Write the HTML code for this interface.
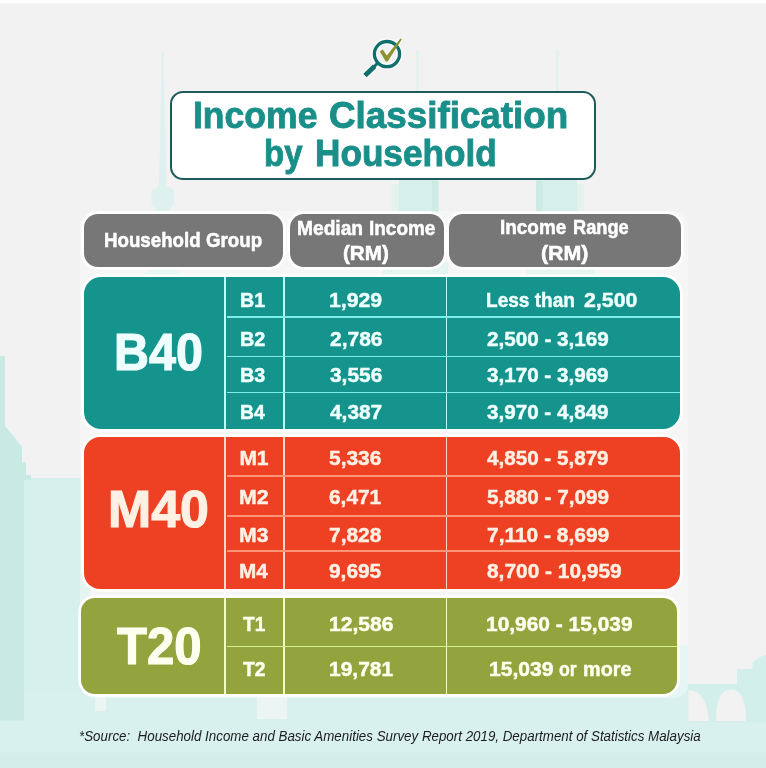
<!DOCTYPE html>
<html><head><meta charset="utf-8"><title>Income Classification by Household</title>
<style>
html,body{margin:0;padding:0}
body{width:766px;height:768px;overflow:hidden;background:#f2f2f2;position:relative;font-family:"Liberation Sans",sans-serif}
.abs{position:absolute}
.t{position:absolute;white-space:nowrap;line-height:1;font-weight:bold;transform-origin:0 0;font-family:"Liberation Sans",sans-serif}
.i{font-weight:normal;font-style:italic}
.hd{position:absolute;background:#777777;border-radius:14px;box-shadow:0 0 0 2.8px rgba(255,255,255,.95)}
.blk{position:absolute;box-shadow:0 0 0 2.8px rgba(255,255,255,.95)}
.vl{position:absolute;width:2px}
.hl{position:absolute;height:1.6px}
</style></head><body>
<!--BG-->
<svg class="abs" style="left:0;top:0" width="766" height="768" viewBox="0 0 766 768">

<rect x="0" y="0" width="766" height="3.2" fill="#ffffff"/>
<rect x="0" y="3.2" width="766" height="1.5" fill="#f8f8f8"/>
<!-- KL tower -->
<path d="M161.8 52 L163.4 52 L166.4 186 L174 190 L174 205 L169 210 L170 268 L180 272 L180 300 L145 300 L145 272 L156 268 L156 210 L151.5 205 L151.5 190 L159 186 Z" fill="#def1ee"/>
<!-- twin towers -->
<g fill="#e3f1ef">
<rect x="416.2" y="50" width="2.6" height="45"/>
<rect x="556.1" y="50" width="2.6" height="45"/>
<rect x="391.5" y="184" width="8" height="116"/>
<rect x="577" y="184" width="7" height="116"/>
</g>
<g fill="#d5efea">
<path d="M399 178 H438.5 V262 H448 V300 H383 V262 H399 Z"/>
<path d="M536 178 H577 V262 H595 V300 H526.7 V262 H536 Z"/>
</g>
<g fill="#cdebe5">
<rect x="432" y="181" width="6.5" height="85"/>
<rect x="536" y="181" width="7" height="85"/>
</g>
<!-- left building -->
<path d="M22 478 H90 V740 H22 Z" fill="#d6f0ec"/>
<path d="M0 356 H5 V426 L22 447 V462 H26 V475 H31 V480 H24 V700 H30 V721 H0 Z" fill="#c8eae3"/>
<!-- bottom -->
<rect x="0" y="720.5" width="766" height="47.5" fill="#d8f1ee"/>
<rect x="0" y="752.5" width="766" height="15.5" fill="#d4ede8"/>
<rect x="24" y="690" width="664" height="32" fill="#d8f1ee"/>
<rect x="95" y="695" width="11" height="16" fill="#ecf5f4"/>
<rect x="257" y="695" width="30" height="24" fill="#ecf5f4"/>
<!-- right -->
<rect x="672" y="645.6" width="15.8" height="80" fill="#d8f1ee"/>
<path d="M687.5 684 H737 V669 H752.5 V663 Q758 657 766 655 V722 H687.5 Z" fill="#d2efeb"/>
<path d="M688.4 721 V690 Q706 690 709 721 Z" fill="#f2f2f2"/>
<path d="M716 721 Q716 689.5 731 689.5 Q746 689.5 746 721 Z" fill="#f2f2f2"/>

</svg>
<div class="abs" style="left:79.5px;top:210.5px;width:608px;height:487px;background:rgba(255,255,255,.35);border-radius:14px"></div>
<!-- title box -->
<div class="abs" style="left:169.8px;top:91.2px;width:421.8px;height:84.8px;border:2px solid #1d5c5a;border-radius:13px;background:#fff"></div>
<!-- header pills -->
<div class="hd" style="left:83.5px;top:213.5px;width:199.5px;height:53px"></div>
<div class="hd" style="left:290px;top:213.5px;width:153.5px;height:53px"></div>
<div class="hd" style="left:449px;top:213.5px;width:231.5px;height:53px"></div>
<!-- blocks -->
<div class="blk" style="left:83.5px;top:277px;width:596.7px;height:152px;background:#14948d;border-radius:17px"></div>
<div class="blk" style="left:83.5px;top:437px;width:596.7px;height:152px;background:#ee4023;border-radius:16px"></div>
<div class="blk" style="left:81px;top:597.7px;width:596px;height:96.3px;background:#93a33d;border-radius:14px"></div>
<div class="abs" style="left:224.40px;top:275px;width:1.8px;height:421.00px;background:#ffffff"></div>
<div class="abs" style="left:224.40px;top:277px;width:1.8px;height:152.00px;background:#b9fffa"></div>
<div class="abs" style="left:224.40px;top:437px;width:1.8px;height:152.00px;background:#ffd8c8"></div>
<div class="abs" style="left:224.40px;top:597.7px;width:1.8px;height:96.30px;background:#f0ffc2"></div>
<div class="abs" style="left:282.80px;top:275px;width:1.8px;height:421.00px;background:#ffffff"></div>
<div class="abs" style="left:282.80px;top:277px;width:1.8px;height:152.00px;background:#b9fffa"></div>
<div class="abs" style="left:282.80px;top:437px;width:1.8px;height:152.00px;background:#ffd8c8"></div>
<div class="abs" style="left:282.80px;top:597.7px;width:1.8px;height:96.30px;background:#f0ffc2"></div>
<div class="abs" style="left:445.70px;top:275px;width:1.8px;height:421.00px;background:#ffffff"></div>
<div class="abs" style="left:445.70px;top:277px;width:1.8px;height:152.00px;background:#b9fffa"></div>
<div class="abs" style="left:445.70px;top:437px;width:1.8px;height:152.00px;background:#ffd8c8"></div>
<div class="abs" style="left:445.70px;top:597.7px;width:1.8px;height:96.30px;background:#f0ffc2"></div>
<div class="abs" style="left:226.6px;top:316.40px;width:453.60px;height:1.6px;background:#7ceee8"></div>
<div class="abs" style="left:226.6px;top:355.60px;width:453.60px;height:1.6px;background:#7ceee8"></div>
<div class="abs" style="left:226.6px;top:391.70px;width:453.60px;height:1.6px;background:#7ceee8"></div>
<div class="abs" style="left:226.6px;top:475.10px;width:453.60px;height:1.6px;background:#ff9378"></div>
<div class="abs" style="left:226.6px;top:515.10px;width:453.60px;height:1.6px;background:#ff9378"></div>
<div class="abs" style="left:226.6px;top:550.40px;width:453.60px;height:1.6px;background:#ff9378"></div>
<div class="abs" style="left:226.6px;top:645.90px;width:450.40px;height:1.6px;background:#d9f090"></div>
<div class="abs" style="left:0;top:0;width:766px;height:768px;will-change:transform">
<span class="t" style="left:192.62px;top:97.00px;font-size:37.2px;color:#1a8f8a;transform:scaleX(0.9554);-webkit-text-stroke:0.9px #1a8f8a;">Income</span>
<span class="t" style="left:328.67px;top:97.00px;font-size:37.2px;color:#1a8f8a;transform:scaleX(0.9896);-webkit-text-stroke:0.9px #1a8f8a;">Classification</span>
<span class="t" style="left:263.96px;top:135.00px;font-size:37.2px;color:#1a8f8a;transform:scaleX(0.8863);-webkit-text-stroke:0.9px #1a8f8a;">by</span>
<span class="t" style="left:315.14px;top:135.00px;font-size:37.2px;color:#1a8f8a;transform:scaleX(0.9458);-webkit-text-stroke:0.9px #1a8f8a;">Household</span>
<span class="t" style="left:103.93px;top:230.00px;font-size:20.8px;color:#fff;transform:scaleX(0.8995);-webkit-text-stroke:0.55px #fff;">Household</span>
<span class="t" style="left:206.10px;top:230.00px;font-size:20.8px;color:#fff;transform:scaleX(0.9007);-webkit-text-stroke:0.55px #fff;">Group</span>
<span class="t" style="left:296.91px;top:218.00px;font-size:20.5px;color:#fff;transform:scaleX(0.9357);-webkit-text-stroke:0.55px #fff;">Median</span>
<span class="t" style="left:369.42px;top:218.00px;font-size:20.5px;color:#fff;transform:scaleX(0.9253);-webkit-text-stroke:0.55px #fff;">Income</span>
<span class="t" style="left:343.45px;top:243.00px;font-size:20.5px;color:#fff;transform:scaleX(1.0065);-webkit-text-stroke:0.55px #fff;">(RM)</span>
<span class="t" style="left:500.32px;top:217.00px;font-size:20.5px;color:#fff;transform:scaleX(0.9238);-webkit-text-stroke:0.55px #fff;">Income</span>
<span class="t" style="left:572.66px;top:217.00px;font-size:20.5px;color:#fff;transform:scaleX(0.8899);-webkit-text-stroke:0.55px #fff;">Range</span>
<span class="t" style="left:541.22px;top:243.00px;font-size:20.5px;color:#fff;transform:scaleX(1.0428);-webkit-text-stroke:0.55px #fff;">(RM)</span>
<span class="t" style="left:114.22px;top:327.00px;font-size:51px;color:#eefffd;transform:scaleX(0.9493);-webkit-text-stroke:1.2px #eefffd;">B40</span>
<span class="t" style="left:107.94px;top:484.00px;font-size:51px;color:#fff0e4;transform:scaleX(1.0164);-webkit-text-stroke:1.2px #fff0e4;">M40</span>
<span class="t" style="left:116.69px;top:621.00px;font-size:51px;color:#fffff0;transform:scaleX(0.9621);-webkit-text-stroke:1.2px #fffff0;">T20</span>
<span class="t" style="left:239.66px;top:289.00px;font-size:21px;color:#eefffd;transform:scaleX(0.9336);-webkit-text-stroke:0.5px #eefffd;">B1</span>
<span class="t" style="left:329.26px;top:290.00px;font-size:20.2px;color:#eefffd;transform:scaleX(1.0504);-webkit-text-stroke:0.45px #eefffd;">1,929</span>
<span class="t" style="left:486.47px;top:290.00px;font-size:20.2px;color:#eefffd;transform:scaleX(0.9429);-webkit-text-stroke:0.45px #eefffd;">Less than</span>
<span class="t" style="left:584.39px;top:290.00px;font-size:20.2px;color:#eefffd;transform:scaleX(1.0559);-webkit-text-stroke:0.45px #eefffd;">2,500</span>
<span class="t" style="left:239.65px;top:328.00px;font-size:21px;color:#eefffd;transform:scaleX(0.9454);-webkit-text-stroke:0.5px #eefffd;">B2</span>
<span class="t" style="left:329.80px;top:329.00px;font-size:20.2px;color:#eefffd;transform:scaleX(1.0396);-webkit-text-stroke:0.45px #eefffd;">2,786</span>
<span class="t" style="left:487.01px;top:329.00px;font-size:20.2px;color:#eefffd;transform:scaleX(1.0236);-webkit-text-stroke:0.45px #eefffd;">2,500 - 3,169</span>
<span class="t" style="left:239.65px;top:364.00px;font-size:21px;color:#eefffd;transform:scaleX(0.9414);-webkit-text-stroke:0.5px #eefffd;">B3</span>
<span class="t" style="left:330.01px;top:365.00px;font-size:20.2px;color:#eefffd;transform:scaleX(1.0354);-webkit-text-stroke:0.45px #eefffd;">3,556</span>
<span class="t" style="left:487.21px;top:365.00px;font-size:20.2px;color:#eefffd;transform:scaleX(1.0218);-webkit-text-stroke:0.45px #eefffd;">3,170 - 3,969</span>
<span class="t" style="left:239.68px;top:401.00px;font-size:21px;color:#eefffd;transform:scaleX(0.9184);-webkit-text-stroke:0.5px #eefffd;">B4</span>
<span class="t" style="left:330.22px;top:402.00px;font-size:20.2px;color:#eefffd;transform:scaleX(1.0333);-webkit-text-stroke:0.45px #eefffd;">4,387</span>
<span class="t" style="left:487.21px;top:402.00px;font-size:20.2px;color:#eefffd;transform:scaleX(1.0218);-webkit-text-stroke:0.45px #eefffd;">3,970 - 4,849</span>
<span class="t" style="left:239.38px;top:447.00px;font-size:21px;color:#fff0e4;transform:scaleX(1.0000);-webkit-text-stroke:0.5px #fff0e4;">M1</span>
<span class="t" style="left:329.01px;top:448.00px;font-size:20.2px;color:#fff0e4;transform:scaleX(1.0355);-webkit-text-stroke:0.45px #fff0e4;">5,336</span>
<span class="t" style="left:487.42px;top:448.00px;font-size:20.2px;color:#fff0e4;transform:scaleX(1.0218);-webkit-text-stroke:0.45px #fff0e4;">4,850 - 5,879</span>
<span class="t" style="left:239.37px;top:486.00px;font-size:21px;color:#fff0e4;transform:scaleX(1.0115);-webkit-text-stroke:0.5px #fff0e4;">M2</span>
<span class="t" style="left:328.90px;top:487.00px;font-size:20.2px;color:#fff0e4;transform:scaleX(1.0334);-webkit-text-stroke:0.45px #fff0e4;">6,471</span>
<span class="t" style="left:487.11px;top:487.00px;font-size:20.2px;color:#fff0e4;transform:scaleX(1.0244);-webkit-text-stroke:0.45px #fff0e4;">5,880 - 7,099</span>
<span class="t" style="left:239.38px;top:524.00px;font-size:21px;color:#fff0e4;transform:scaleX(1.0076);-webkit-text-stroke:0.5px #fff0e4;">M3</span>
<span class="t" style="left:328.80px;top:525.00px;font-size:20.2px;color:#fff0e4;transform:scaleX(1.0376);-webkit-text-stroke:0.45px #fff0e4;">7,828</span>
<span class="t" style="left:486.90px;top:525.00px;font-size:20.2px;color:#fff0e4;transform:scaleX(1.0368);-webkit-text-stroke:0.45px #fff0e4;">7,110 - 8,699</span>
<span class="t" style="left:239.40px;top:560.00px;font-size:21px;color:#fff0e4;transform:scaleX(0.9851);-webkit-text-stroke:0.5px #fff0e4;">M4</span>
<span class="t" style="left:328.90px;top:561.00px;font-size:20.2px;color:#fff0e4;transform:scaleX(1.0334);-webkit-text-stroke:0.45px #fff0e4;">9,695</span>
<span class="t" style="left:487.11px;top:561.00px;font-size:20.2px;color:#fff0e4;transform:scaleX(1.0346);-webkit-text-stroke:0.45px #fff0e4;">8,700 - 10,959</span>
<span class="t" style="left:242.64px;top:613.00px;font-size:21px;color:#fffff0;transform:scaleX(0.9080);-webkit-text-stroke:0.5px #fffff0;">T1</span>
<span class="t" style="left:328.57px;top:614.00px;font-size:20.2px;color:#fffff0;transform:scaleX(1.0424);-webkit-text-stroke:0.45px #fffff0;">12,586</span>
<span class="t" style="left:486.18px;top:614.00px;font-size:20.2px;color:#fffff0;transform:scaleX(1.0362);-webkit-text-stroke:0.45px #fffff0;">10,960 - 15,039</span>
<span class="t" style="left:242.64px;top:658.00px;font-size:21px;color:#fffff0;transform:scaleX(0.9199);-webkit-text-stroke:0.5px #fffff0;">T2</span>
<span class="t" style="left:328.57px;top:659.00px;font-size:20.2px;color:#fffff0;transform:scaleX(1.0389);-webkit-text-stroke:0.45px #fffff0;">19,781</span>
<span class="t" style="left:488.97px;top:659.00px;font-size:20.2px;color:#fffff0;transform:scaleX(1.0457);-webkit-text-stroke:0.45px #fffff0;">15,039</span>
<span class="t" style="left:558.89px;top:659.00px;font-size:20.2px;color:#fffff0;transform:scaleX(0.8752);-webkit-text-stroke:0.45px #fffff0;">or</span>
<span class="t" style="left:582.73px;top:659.00px;font-size:20.2px;color:#fffff0;transform:scaleX(0.9829);-webkit-text-stroke:0.45px #fffff0;">more</span>
<span class="t i" style="left:79.40px;top:728.00px;font-size:15px;color:#1c1c1c;transform:scaleX(0.8895);">*Source:&nbsp; Household Income and Basic Amenities Survey Report 2019, Department of Statistics Malaysia</span>
</div>
<svg class="abs" style="left:355px;top:30px" width="60" height="55" viewBox="355 30 60 55">
<g opacity=".7" stroke="#fff" fill="none" stroke-linejoin="round">
<circle cx="387" cy="54.1" r="12.6" stroke-width="6.5"/>
<path d="M376.6 64.2 L365.2 75.2" stroke-width="7.5"/>
<path d="M386.8 57 L400.8 39" stroke-width="5"/>
</g>
<circle cx="387" cy="54.1" r="12.6" fill="none" stroke="#0f6f6c" stroke-width="3.3"/>
<path d="M377.4 63.4 L374 66.8" stroke="#0f6f6c" stroke-width="3" fill="none"/>
<path d="M374.6 66.2 L365.0 75.4" stroke="#0f6f6c" stroke-width="4.8" stroke-linecap="butt" fill="none"/>
<path d="M379.8 51.4 L382.8 49.6 L386.8 55.6 L400.4 38.4 L401.8 39.4 L387.6 61.4 L385.8 61.4 Z" fill="#8d9232"/>
</svg>
</body></html>
